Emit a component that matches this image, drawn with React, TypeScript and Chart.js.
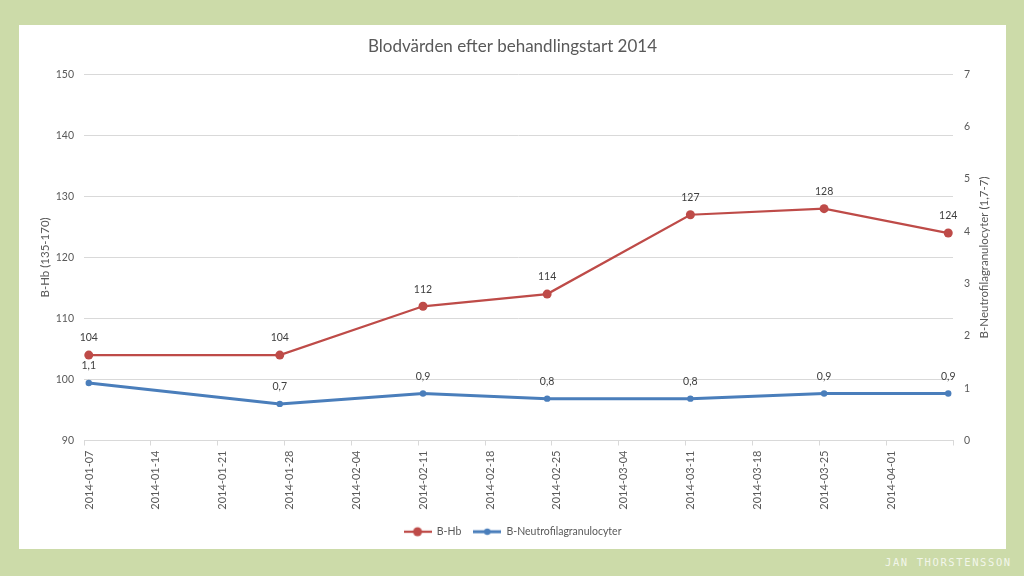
import React, { useEffect, useRef } from 'react';
import { Chart, registerables } from 'chart.js';

Chart.register(...registerables);

// ---- data ----
const chartTitle = 'Blodvärden efter behandlingstart 2014';
const leftAxisTitle = 'B-Hb (135-170)';
const rightAxisTitle = 'B-Neutrofilagranulocyter (1,7-7)';
const seriesNames = ['B-Hb', 'B-Neutrofilagranulocyter'];
const sampleDates = ['2014-01-07', '2014-01-27', '2014-02-11', '2014-02-24', '2014-03-11', '2014-03-25', '2014-04-07'];
const hbValues = [104, 104, 112, 114, 127, 128, 124];
const neutroValues = [1.1, 0.7, 0.9, 0.8, 0.8, 0.9, 0.9];
const xTickDates = [
  '2014-01-07', '2014-01-14', '2014-01-21', '2014-01-28', '2014-02-04', '2014-02-11', '2014-02-18',
  '2014-02-25', '2014-03-04', '2014-03-11', '2014-03-18', '2014-03-25', '2014-04-01', '2014-04-08',
];
const hiddenTickLabels = ['2014-04-08'];
const leftRange = [90, 150, 10];
const rightRange = [0, 7, 1];

// ---- helpers ----
const DAY = 86400000;
const parseDay = (s: string) => {
  const [y, m, d] = s.split('-').map(Number);
  return Date.UTC(y, m - 1, d);
};
const axisStart = parseDay(xTickDates[0]);
const axisEnd = parseDay(xTickDates[xTickDates.length - 1]);
const dayOf = (s: string) => (parseDay(s) - axisStart) / DAY;

const FONT = 'Lato, "Open Sans", sans-serif';
const TEXT = '#595959';
const GRID = '#d9d9d9';
const RED = '#be4b48';
const BLUE = '#4a7ebb';

function legendMarker(color: string, lw: number, r: number) {
  const c = document.createElement('canvas');
  c.width = 28;
  c.height = 12;
  const g = c.getContext('2d')!;
  g.strokeStyle = color;
  g.lineWidth = lw;
  g.beginPath();
  g.moveTo(0, 6);
  g.lineTo(28, 6);
  g.stroke();
  g.fillStyle = color;
  g.beginPath();
  g.arc(14, 6, r, 0, Math.PI * 2);
  g.fill();
  return c;
}

const valueLabels = {
  id: 'valueLabels',
  afterDatasetsDraw(chart: any) {
    const ctx = chart.ctx;
    ctx.save();
    ctx.font = `10.5px ${FONT}`;
    ctx.fillStyle = '#404040';
    ctx.textAlign = 'center';
    ctx.textBaseline = 'middle';
    chart.data.datasets.forEach((ds: any, i: number) => {
      const meta = chart.getDatasetMeta(i);
      meta.data.forEach((pt: any, j: number) => {
        const v = ds.data[j].y;
        const txt = i === 0 ? String(v) : v.toFixed(1).replace('.', ',');
        ctx.fillText(txt, pt.x, pt.y - 17);
      });
    });
    ctx.restore();
  },
};

const axisTitles = {
  id: 'axisTitles',
  afterDraw(chart: any) {
    const { ctx, chartArea } = chart;
    const cy = (chartArea.top + chartArea.bottom) / 2;
    ctx.save();
    ctx.font = `11.5px ${FONT}`;
    ctx.fillStyle = TEXT;
    ctx.textAlign = 'center';
    ctx.textBaseline = 'middle';
    const draw = (txt: string, x: number) => {
      ctx.save();
      ctx.translate(x, cy);
      ctx.rotate(-Math.PI / 2);
      ctx.fillText(txt, 0, 0);
      ctx.restore();
    };
    draw(leftAxisTitle, chartArea.left - 39);
    draw(rightAxisTitle, chartArea.right + 31);
    ctx.restore();
  },
};

export default function App() {
  const ref = useRef<HTMLCanvasElement>(null);

  useEffect(() => {
    const markers = [legendMarker(RED, 2.25, 4.5), legendMarker(BLUE, 3, 3.2)];
    const chart = new Chart(ref.current!, {
      type: 'line',
      data: {
        datasets: [
          {
            label: seriesNames[0],
            data: sampleDates.map((d, i) => ({ x: dayOf(d) + 0.5, y: hbValues[i] })),
            borderColor: RED,
            backgroundColor: RED,
            borderWidth: 2.25,
            pointRadius: 4.5,
            pointBorderWidth: 0,
            yAxisID: 'y',
          },
          {
            label: seriesNames[1],
            data: sampleDates.map((d, i) => ({ x: dayOf(d) + 0.5, y: neutroValues[i] })),
            borderColor: BLUE,
            backgroundColor: BLUE,
            borderWidth: 3,
            pointRadius: 3.2,
            pointBorderWidth: 0,
            yAxisID: 'y1',
          },
        ],
      },
      options: {
        animation: false,
        responsive: true,
        maintainAspectRatio: false,
        layout: { padding: { top: 0, bottom: 2, left: 0, right: 0 } },
        plugins: {
          tooltip: { enabled: false },
          title: {
            display: true,
            text: chartTitle,
            color: TEXT,
            font: { family: FONT, size: 17, weight: 'normal' },
            padding: { top: 11, bottom: 18 },
          },
          legend: {
            position: 'bottom',
            labels: {
              usePointStyle: true,
              pointStyleWidth: 28,
              color: TEXT,
              font: { family: FONT, size: 10.5 },
              padding: 12,
              generateLabels: () =>
                seriesNames.map((n, i) => ({
                  text: n,
                  pointStyle: markers[i],
                  fillStyle: 'transparent',
                  strokeStyle: 'transparent',
                  lineWidth: 0,
                  hidden: false,
                  datasetIndex: i,
                  fontColor: TEXT,
                })),
            },
          },
        },
        scales: {
          x: {
            type: 'linear',
            min: 0,
            max: (axisEnd - axisStart) / DAY,
            afterBuildTicks: (scale: any) => {
              scale.ticks = xTickDates.map((d) => ({ value: dayOf(d) }));
            },
            afterFit: (scale: any) => {
              scale.height = 74;
            },
            ticks: {
              autoSkip: false,
              maxRotation: 90,
              minRotation: 90,
              padding: 5,
              labelOffset: 5,
              color: TEXT,
              font: { family: FONT, size: 11 },
              callback: (_v: any, i: number) =>
                hiddenTickLabels.includes(xTickDates[i]) ? '' : xTickDates[i],
            },
            grid: { drawOnChartArea: false, drawTicks: true, tickLength: 5, color: GRID },
            border: { display: true, color: GRID },
          },
          y: {
            position: 'left',
            min: leftRange[0],
            max: leftRange[1],
            ticks: { stepSize: leftRange[2], color: TEXT, padding: 10, font: { family: FONT, size: 10.5 } },
            grid: { color: GRID, drawTicks: false },
            border: { display: false },
            afterFit: (scale: any) => {
              scale.width = 65;
            },
          },
          y1: {
            position: 'right',
            min: rightRange[0],
            max: rightRange[1],
            ticks: { stepSize: rightRange[2], color: TEXT, padding: 11, font: { family: FONT, size: 10.5 } },
            grid: { drawOnChartArea: false, drawTicks: false },
            border: { display: false },
            afterFit: (scale: any) => {
              scale.width = 53;
            },
          },
        },
      } as any,
      plugins: [valueLabels, axisTitles],
    });
    return () => chart.destroy();
  }, []);

  return (
    <div style={{ position: 'fixed', left: 0, top: 0, width: 1024, height: 576, background: '#ccdba9', overflow: 'hidden' }}>
      <div style={{ position: 'absolute', left: 19, top: 25, width: 987, height: 524, background: '#ffffff' }}>
        <canvas ref={ref} />
      </div>
      <div
        style={{
          position: 'absolute',
          left: 885,
          top: 556,
          lineHeight: '12px',
          fontFamily: '"DejaVu Sans Mono", monospace',
          fontSize: 10.5,
          letterSpacing: 1.6,
          color: '#f2f6ea',
          whiteSpace: 'nowrap',
        }}
      >
        JAN THORSTENSSON
      </div>
    </div>
  );
}
